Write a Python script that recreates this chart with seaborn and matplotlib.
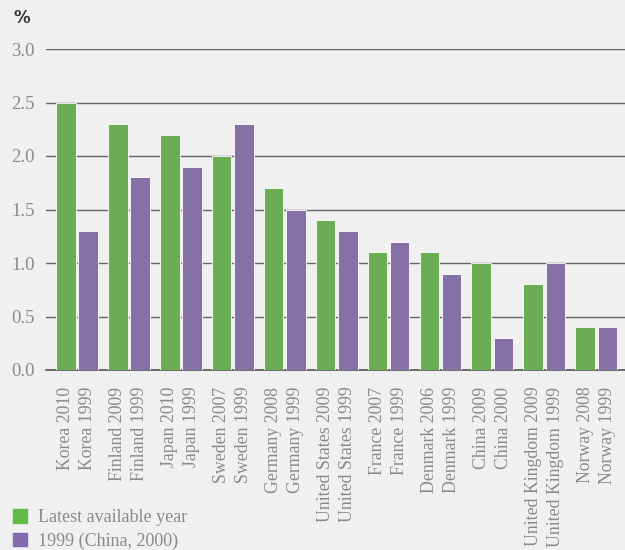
import pandas as pd
import numpy as np
import matplotlib.pyplot as plt
import seaborn as sns

countries = ["Korea", "Finland", "Japan", "Sweden", "Germany", "United States",
             "France", "Denmark", "China", "United Kingdom", "Norway"]
latest_year = ["2010", "2009", "2010", "2007", "2008", "2009", "2007", "2006", "2009", "2009", "2008"]
early_year = ["1999", "1999", "1999", "1999", "1999", "1999", "1999", "1999", "2000", "1999", "1999"]
latest_vals = [2.5, 2.3, 2.2, 2.0, 1.7, 1.4, 1.1, 1.1, 1.0, 0.8, 0.4]
early_vals = [1.3, 1.8, 1.9, 2.3, 1.5, 1.3, 1.2, 0.9, 0.3, 1.0, 0.4]
series_names = ["Latest available year", "1999 (China, 2000)"]

green = "#62bb47"
purple = "#8368ae"
bg = "#f0f0f0"
grey_txt = "#8a8a8a"

df = pd.DataFrame({
    "country": countries * 2,
    "value": latest_vals + early_vals,
    "series": [series_names[0]] * len(countries) + [series_names[1]] * len(countries),
})

fig = plt.figure(figsize=(6.25, 5.5), dpi=100, facecolor=bg)
ax = fig.add_axes([46 / 625, 1 - 370 / 550, 579 / 625, 321 / 550], facecolor=bg)

sns.barplot(data=df, x="country", y="value", hue="series", order=countries,
            hue_order=series_names, palette=[green, purple], width=0.85, gap=0.1,
            edgecolor="#ffffff", linewidth=0.6, ax=ax, legend=False, zorder=3)

ax.set_ylim(0, 3.0)
ax.set_xlim(-0.59, len(countries) - 1 + 0.55)
ax.set_yticks(np.arange(0, 3.01, 0.5))
ax.set_yticklabels([f"{v:.1f}" for v in np.arange(0, 3.01, 0.5)],
                   family="Liberation Serif", fontsize=13.5, color=grey_txt)
ax.yaxis.grid(True, color="#666666", linewidth=1.0, zorder=0)
ax.set_axisbelow(True)
ax.tick_params(axis="y", length=0, pad=8)
ax.tick_params(axis="x", length=0, pad=12)

# one tick label per bar
pos, labels = [], []
n = len(countries)
for i, p in enumerate(ax.patches[:2 * n]):
    pos.append(p.get_x() + p.get_width() / 2)
    if i < n:
        labels.append(f"{countries[i]} {latest_year[i]}")
    else:
        labels.append(f"{countries[i - n]} {early_year[i - n]}")
order = np.argsort(pos)
ax.set_xticks(np.array(pos)[order])
ax.set_xticklabels(np.array(labels)[order], rotation=90, ha="center", va="top",
                   family="Liberation Serif", fontsize=12.8, color=grey_txt)

for s in ["top", "right", "left"]:
    ax.spines[s].set_visible(False)
ax.spines["bottom"].set_color("#555555")
ax.spines["bottom"].set_linewidth(1.2)
ax.set_xlabel("")
ax.set_ylabel("")

fig.text(14 / 625, 1 - 18 / 550, "%", fontsize=12, fontweight="bold", color="#333333",
         family="DejaVu Sans", va="center", ha="left")

handles = [plt.Rectangle((0, 0), 1, 1, color=green), plt.Rectangle((0, 0), 1, 1, color=purple)]
leg = fig.legend(handles, series_names, loc="upper left", bbox_to_anchor=(13 / 625, 1 - 509 / 550),
                 frameon=False, handlelength=0.8, handleheight=0.8, handletextpad=0.6,
                 labelspacing=0.35, borderpad=0, borderaxespad=0,
                 prop={"family": "Liberation Serif", "size": 13})
for t in leg.get_texts():
    t.set_color(grey_txt)

fig.savefig("out.png", dpi=100, facecolor=bg)
